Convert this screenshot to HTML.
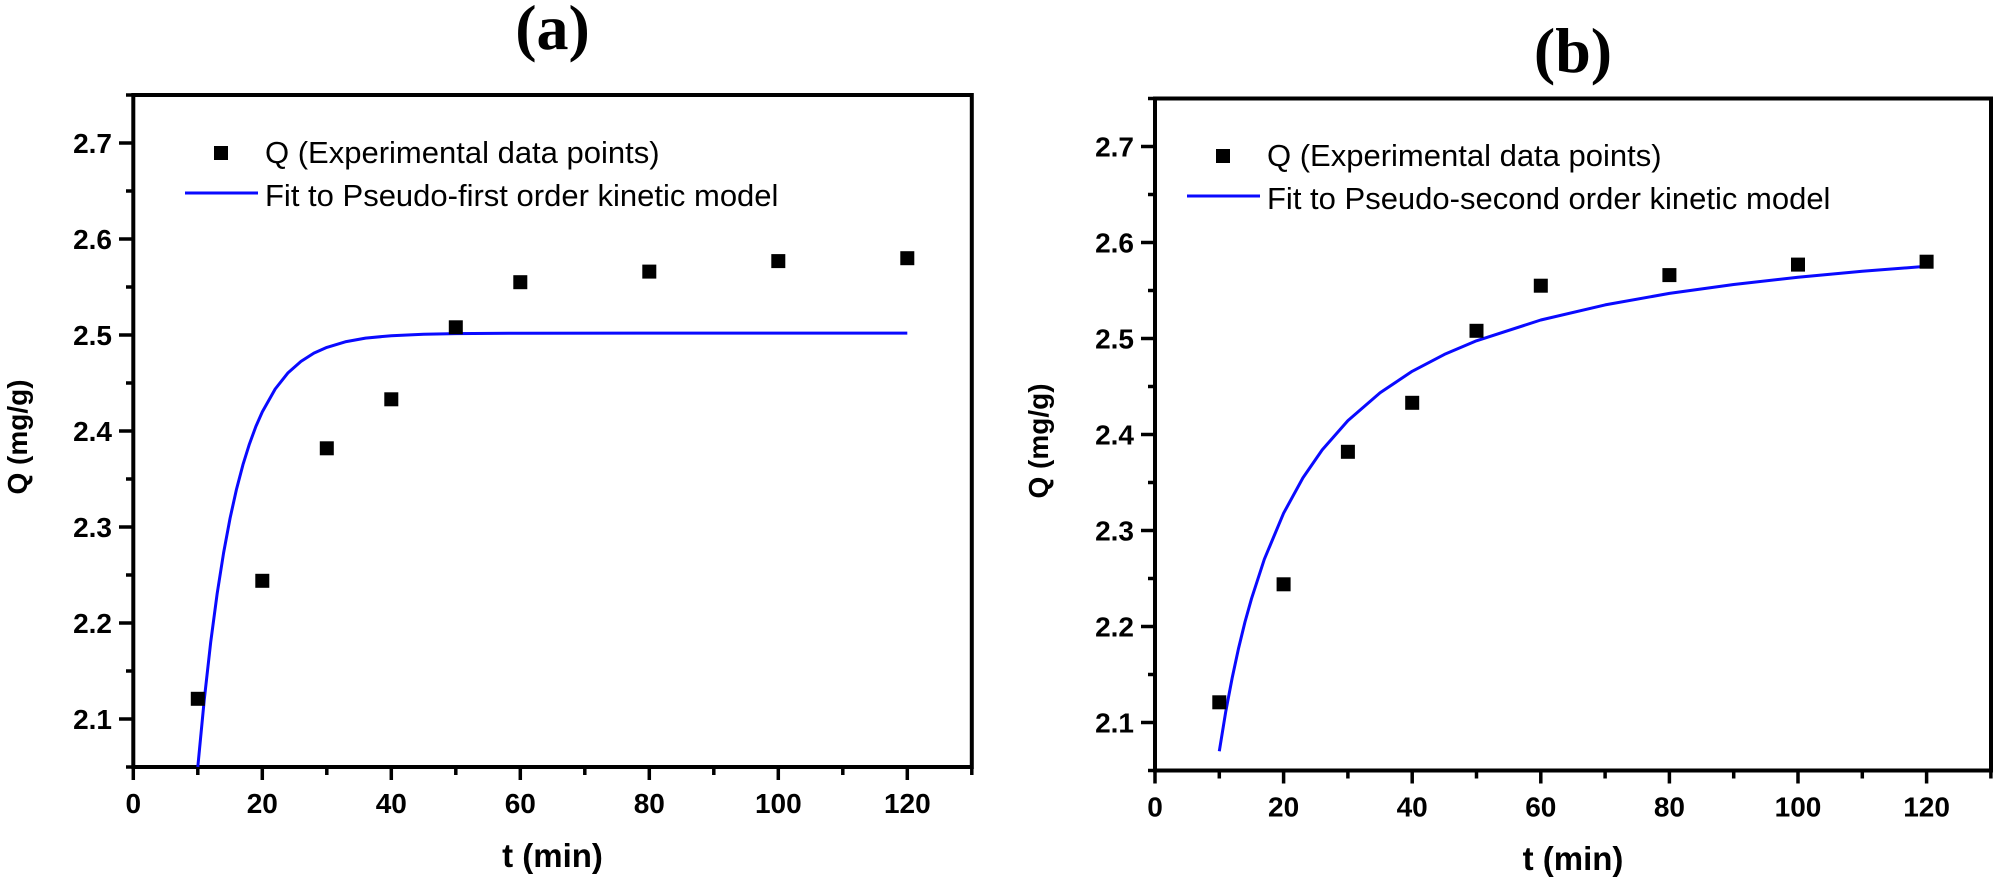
<!DOCTYPE html>
<html>
<head>
<meta charset="utf-8">
<style>
  html, body { margin: 0; padding: 0; background: #ffffff; }
  svg { display: block; }
  .tick { font-family: "Liberation Sans", Arial, sans-serif; font-weight: bold; font-size: 28px; fill: #000; }
  .lab { font-family: "Liberation Sans", Arial, sans-serif; font-weight: bold; fill: #000; }
  .leg { font-family: "Liberation Sans", Arial, sans-serif; font-size: 31px; fill: #000; }
  .ttl { font-family: "Liberation Serif", "Times New Roman", serif; font-weight: bold; font-size: 64px; fill: #000; }
</style>
</head>
<body>
<svg width="1997" height="885" viewBox="0 0 1997 885" xmlns="http://www.w3.org/2000/svg">
  <rect x="0" y="0" width="1997" height="885" fill="#ffffff"/>

  <!-- ================= LEFT PLOT (a) ================= -->
  <text class="ttl" x="552.5" y="49" text-anchor="middle">(a)</text>

  <rect x="133.3" y="95" width="838.5" height="672" fill="none" stroke="#000" stroke-width="4"/>

  <g stroke="#000" stroke-width="3.5">
    <line x1="119" y1="719" x2="133.3" y2="719"/>
    <line x1="119" y1="623" x2="133.3" y2="623"/>
    <line x1="119" y1="527" x2="133.3" y2="527"/>
    <line x1="119" y1="431" x2="133.3" y2="431"/>
    <line x1="119" y1="335" x2="133.3" y2="335"/>
    <line x1="119" y1="239" x2="133.3" y2="239"/>
    <line x1="119" y1="143" x2="133.3" y2="143"/>
    <line x1="126" y1="767" x2="133.3" y2="767"/>
    <line x1="126" y1="671" x2="133.3" y2="671"/>
    <line x1="126" y1="575" x2="133.3" y2="575"/>
    <line x1="126" y1="479" x2="133.3" y2="479"/>
    <line x1="126" y1="383" x2="133.3" y2="383"/>
    <line x1="126" y1="287" x2="133.3" y2="287"/>
    <line x1="126" y1="191" x2="133.3" y2="191"/>
    <line x1="126" y1="95" x2="133.3" y2="95"/>
  </g>
  <g class="tick" text-anchor="end">
    <text x="112" y="729">2.1</text>
    <text x="112" y="633">2.2</text>
    <text x="112" y="537">2.3</text>
    <text x="112" y="441">2.4</text>
    <text x="112" y="345">2.5</text>
    <text x="112" y="249">2.6</text>
    <text x="112" y="153">2.7</text>
  </g>

  <g stroke="#000" stroke-width="3.5">
    <line x1="133.3" y1="767" x2="133.3" y2="780"/>
    <line x1="262.3" y1="767" x2="262.3" y2="780"/>
    <line x1="391.3" y1="767" x2="391.3" y2="780"/>
    <line x1="520.3" y1="767" x2="520.3" y2="780"/>
    <line x1="649.3" y1="767" x2="649.3" y2="780"/>
    <line x1="778.3" y1="767" x2="778.3" y2="780"/>
    <line x1="907.3" y1="767" x2="907.3" y2="780"/>
    <line x1="197.8" y1="767" x2="197.8" y2="775"/>
    <line x1="326.8" y1="767" x2="326.8" y2="775"/>
    <line x1="455.8" y1="767" x2="455.8" y2="775"/>
    <line x1="584.8" y1="767" x2="584.8" y2="775"/>
    <line x1="713.8" y1="767" x2="713.8" y2="775"/>
    <line x1="842.8" y1="767" x2="842.8" y2="775"/>
    <line x1="971.8" y1="767" x2="971.8" y2="775"/>
  </g>
  <g class="tick" text-anchor="middle">
    <text x="133.3" y="813">0</text>
    <text x="262.3" y="813">20</text>
    <text x="391.3" y="813">40</text>
    <text x="520.3" y="813">60</text>
    <text x="649.3" y="813">80</text>
    <text x="778.3" y="813">100</text>
    <text x="907.3" y="813">120</text>
  </g>

  <text class="lab" x="552.5" y="867" font-size="33" text-anchor="middle">t (min)</text>
  <text class="lab" font-size="28" text-anchor="middle" transform="translate(27,437) rotate(-90)">Q (mg/g)</text>

  <polyline fill="none" stroke="#0a0aff" stroke-width="3" stroke-linejoin="round"
    points="197.8,767 204.25,699.8 210.7,642.2 217.15,593.7 223.6,552.8 230.05,518.3 236.5,489.2 242.95,464.7 249.4,444.1 255.85,426.5 262.3,411.9 275.2,389.0 288.1,372.7 301.0,361.4 313.9,353.1 326.8,347.4 346.2,341.6 365.5,338.1 391.3,335.7 423.6,334.2 455.8,333.6 520.3,333.2 907.3,333.1"/>

  <g fill="#000">
    <rect x="190.8" y="691.8" width="14" height="14"/>
    <rect x="255.3" y="573.8" width="14" height="14"/>
    <rect x="319.8" y="441.3" width="14" height="14"/>
    <rect x="384.3" y="392.3" width="14" height="14"/>
    <rect x="448.8" y="320.3" width="14" height="14"/>
    <rect x="513.3" y="275.2" width="14" height="14"/>
    <rect x="642.3" y="264.6" width="14" height="14"/>
    <rect x="771.3" y="254.1" width="14" height="14"/>
    <rect x="900.3" y="251.2" width="14" height="14"/>
  </g>

  <rect x="214" y="146" width="14" height="14" fill="#000"/>
  <text class="leg" x="265" y="163">Q (Experimental data points)</text>
  <line x1="185" y1="193" x2="258" y2="193" stroke="#0a0aff" stroke-width="3"/>
  <text class="leg" x="265" y="206">Fit to Pseudo-first order kinetic model</text>

  <!-- ================= RIGHT PLOT (b) ================= -->
  <text class="ttl" x="1573" y="72" text-anchor="middle">(b)</text>

  <rect x="1155" y="98.5" width="836" height="672" fill="none" stroke="#000" stroke-width="4"/>

  <g stroke="#000" stroke-width="3.5">
    <line x1="1141" y1="722.5" x2="1155" y2="722.5"/>
    <line x1="1141" y1="626.5" x2="1155" y2="626.5"/>
    <line x1="1141" y1="530.5" x2="1155" y2="530.5"/>
    <line x1="1141" y1="434.5" x2="1155" y2="434.5"/>
    <line x1="1141" y1="338.5" x2="1155" y2="338.5"/>
    <line x1="1141" y1="242.5" x2="1155" y2="242.5"/>
    <line x1="1141" y1="146.5" x2="1155" y2="146.5"/>
    <line x1="1148" y1="770.5" x2="1155" y2="770.5"/>
    <line x1="1148" y1="674.5" x2="1155" y2="674.5"/>
    <line x1="1148" y1="578.5" x2="1155" y2="578.5"/>
    <line x1="1148" y1="482.5" x2="1155" y2="482.5"/>
    <line x1="1148" y1="386.5" x2="1155" y2="386.5"/>
    <line x1="1148" y1="290.5" x2="1155" y2="290.5"/>
    <line x1="1148" y1="194.5" x2="1155" y2="194.5"/>
    <line x1="1148" y1="98.5" x2="1155" y2="98.5"/>
  </g>
  <g class="tick" text-anchor="end">
    <text x="1134" y="732.5">2.1</text>
    <text x="1134" y="636.5">2.2</text>
    <text x="1134" y="540.5">2.3</text>
    <text x="1134" y="444.5">2.4</text>
    <text x="1134" y="348.5">2.5</text>
    <text x="1134" y="252.5">2.6</text>
    <text x="1134" y="156.5">2.7</text>
  </g>

  <g stroke="#000" stroke-width="3.5">
    <line x1="1155" y1="770.5" x2="1155" y2="783.5"/>
    <line x1="1283.6" y1="770.5" x2="1283.6" y2="783.5"/>
    <line x1="1412.2" y1="770.5" x2="1412.2" y2="783.5"/>
    <line x1="1540.8" y1="770.5" x2="1540.8" y2="783.5"/>
    <line x1="1669.4" y1="770.5" x2="1669.4" y2="783.5"/>
    <line x1="1798" y1="770.5" x2="1798" y2="783.5"/>
    <line x1="1926.6" y1="770.5" x2="1926.6" y2="783.5"/>
    <line x1="1219.3" y1="770.5" x2="1219.3" y2="778.5"/>
    <line x1="1347.9" y1="770.5" x2="1347.9" y2="778.5"/>
    <line x1="1476.5" y1="770.5" x2="1476.5" y2="778.5"/>
    <line x1="1605.1" y1="770.5" x2="1605.1" y2="778.5"/>
    <line x1="1733.7" y1="770.5" x2="1733.7" y2="778.5"/>
    <line x1="1862.3" y1="770.5" x2="1862.3" y2="778.5"/>
    <line x1="1990.9" y1="770.5" x2="1990.9" y2="778.5"/>
  </g>
  <g class="tick" text-anchor="middle">
    <text x="1155" y="816.5">0</text>
    <text x="1283.6" y="816.5">20</text>
    <text x="1412.2" y="816.5">40</text>
    <text x="1540.8" y="816.5">60</text>
    <text x="1669.4" y="816.5">80</text>
    <text x="1798" y="816.5">100</text>
    <text x="1926.6" y="816.5">120</text>
  </g>

  <text class="lab" x="1573" y="870" font-size="33" text-anchor="middle">t (min)</text>
  <text class="lab" font-size="28" text-anchor="middle" transform="translate(1048,441) rotate(-90)">Q (mg/g)</text>

  <polyline fill="none" stroke="#0a0aff" stroke-width="3" stroke-linejoin="round"
    points="1219.3,751.3 1225.7,711.9 1232.2,677.8 1238.6,648.1 1245.0,621.9 1251.5,598.7 1264.3,559.3 1283.6,513.2 1302.9,477.9 1322.2,449.9 1347.9,420.6 1380.1,392.7 1412.2,371.3 1444.4,354.4 1476.5,340.8 1540.8,320.0 1605.1,304.9 1669.4,293.4 1733.7,284.5 1798,277.3 1862.3,271.3 1926.6,266.3"/>

  <g fill="#000">
    <rect x="1212.3" y="695.3" width="14" height="14"/>
    <rect x="1276.6" y="577.3" width="14" height="14"/>
    <rect x="1340.9" y="444.8" width="14" height="14"/>
    <rect x="1405.2" y="395.8" width="14" height="14"/>
    <rect x="1469.5" y="323.8" width="14" height="14"/>
    <rect x="1533.8" y="278.7" width="14" height="14"/>
    <rect x="1662.4" y="268.1" width="14" height="14"/>
    <rect x="1791" y="257.6" width="14" height="14"/>
    <rect x="1919.6" y="254.7" width="14" height="14"/>
  </g>

  <rect x="1216" y="149" width="14" height="14" fill="#000"/>
  <text class="leg" x="1267" y="166">Q (Experimental data points)</text>
  <line x1="1187" y1="196" x2="1260" y2="196" stroke="#0a0aff" stroke-width="3"/>
  <text class="leg" x="1267" y="209">Fit to Pseudo-second order kinetic model</text>
</svg>
</body>
</html>
